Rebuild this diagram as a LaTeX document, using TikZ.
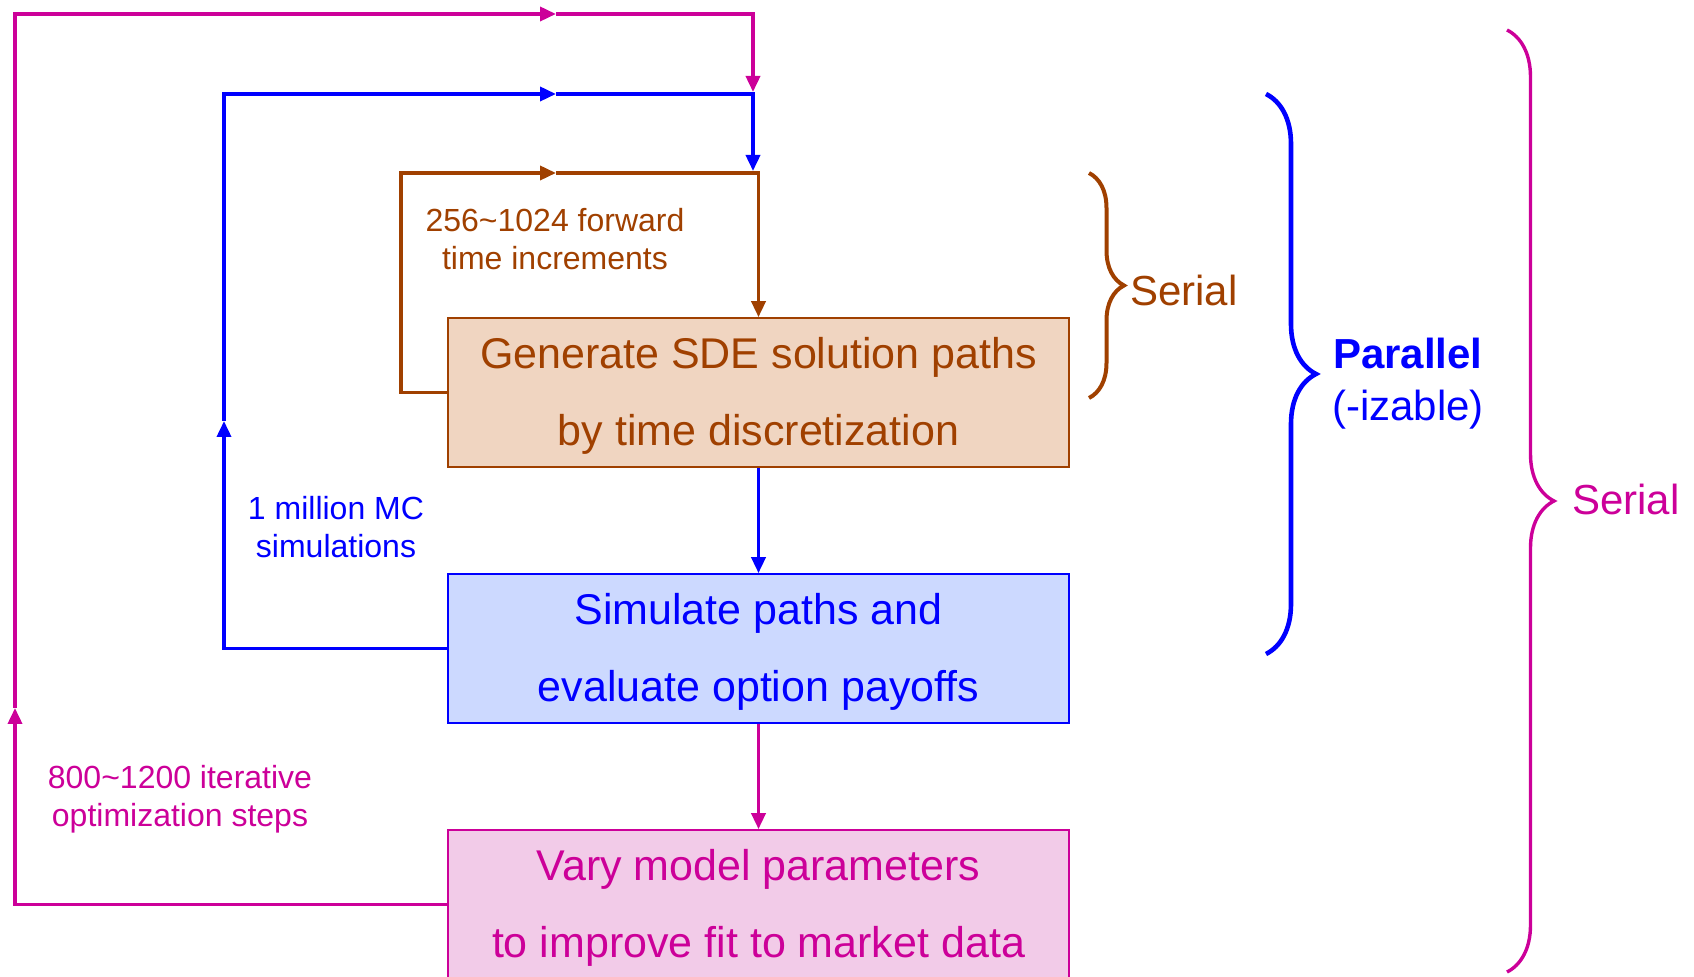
\documentclass[tikz,border=0pt]{standalone}
\usepackage{fontspec}
\setmainfont{Liberation Sans}
\usetikzlibrary{arrows.meta,decorations.pathreplacing}

\definecolor{serbrown}{RGB}{160,64,0}
\definecolor{serfill}{RGB}{240,213,193}
\definecolor{parblue}{RGB}{0,0,255}
\definecolor{parfill}{RGB}{204,217,255}
\definecolor{optmag}{RGB}{204,0,153}
\definecolor{optfill}{RGB}{242,203,232}

\tikzset{
	stepbox/.style={draw, line width=0.8pt, minimum width=310.5pt, minimum height=74.5pt,
		align=center, font=\fontsize{21.5}{38.5}\selectfont},
	flow/.style={line width=1.8pt, -{Triangle[length=8pt,width=7pt]}},
	note/.style={align=center, font=\fontsize{16}{19}\selectfont},
	side/.style={anchor=west, align=center, font=\fontsize{21}{26}\selectfont},
	grp/.style={decorate, decoration={brace, amplitude=#1}},
}

\begin{document}
\begin{tikzpicture}[x=0.5pt, y=-0.5pt]
	\useasboundingbox (0,0) rectangle (1694,977);

	\node[stepbox, draw=serbrown, fill=serfill, text=serbrown] (gen) at (758.5,392.5)
		{\rule{0pt}{19pt}Generate SDE solution paths\\by time discretization};
	\node[stepbox, draw=parblue, fill=parfill, text=parblue] (sim) at (758.5,648.5)
		{\rule{0pt}{19pt}Simulate paths and\\evaluate option payoffs};
	\node[stepbox, draw=optmag, fill=optfill, text=optmag] (vary) at (758.5,904.5)
		{\rule{0pt}{19pt}Vary model parameters\\to improve fit to market data};

	\draw[flow, parblue] (gen.south) -- (sim.north);
	\draw[flow, optmag] (sim.south) -- (vary.north);

	% inner loop
	\coordinate (bturn) at (401,173);
	\coordinate (bmid) at (556,173);
	\draw[flow, serbrown] (gen.west) -| (bturn) -- (bmid);
	\draw[flow, serbrown] (bmid) -| (gen.north);
	\node[note, text=serbrown] (steps) at (555,239) {256\textasciitilde1024 forward\\time increments};

	% middle loop
	\coordinate (pup) at (224,421);
	\coordinate (pmid) at (556,94);
	\coordinate (pin) at (753,171);
	\draw[flow, parblue] (sim.west) -| (pup);
	\draw[flow, parblue] (pup) |- (pmid);
	\draw[flow, parblue] (pmid) -| (pin);
	\node[note, text=parblue] (paths) at (336,527) {1 million MC\\simulations};

	% outer loop
	\coordinate (mup) at (15,708);
	\coordinate (mmid) at (556,14);
	\coordinate (min) at (753,92);
	\draw[flow, optmag] (vary.west) -| (mup);
	\draw[flow, optmag] (mup) |- (mmid);
	\draw[flow, optmag] (mmid) -| (min);
	\node[note, text=optmag] (iters) at (180,799) {800\textasciitilde1200 iterative\\optimization steps};

	\draw[grp=17.5pt, serbrown, line width=2pt] (1089,173) -- (1089,398);
	\node[side, text=serbrown] (ser1) at (1123,290) {Serial};
	\draw[grp=25pt, parblue, line width=2.3pt] (1266,94) -- (1266,654);
	\node[side, text=parblue] (par) at (1325,384) {\textbf{Parallel}\\(-izable)};
	\draw[grp=23.5pt, optmag, line width=1.7pt] (1507,30) -- (1507,972);
	\node[side, text=optmag] (ser2) at (1565,499) {Serial};
\end{tikzpicture}
\end{document}
